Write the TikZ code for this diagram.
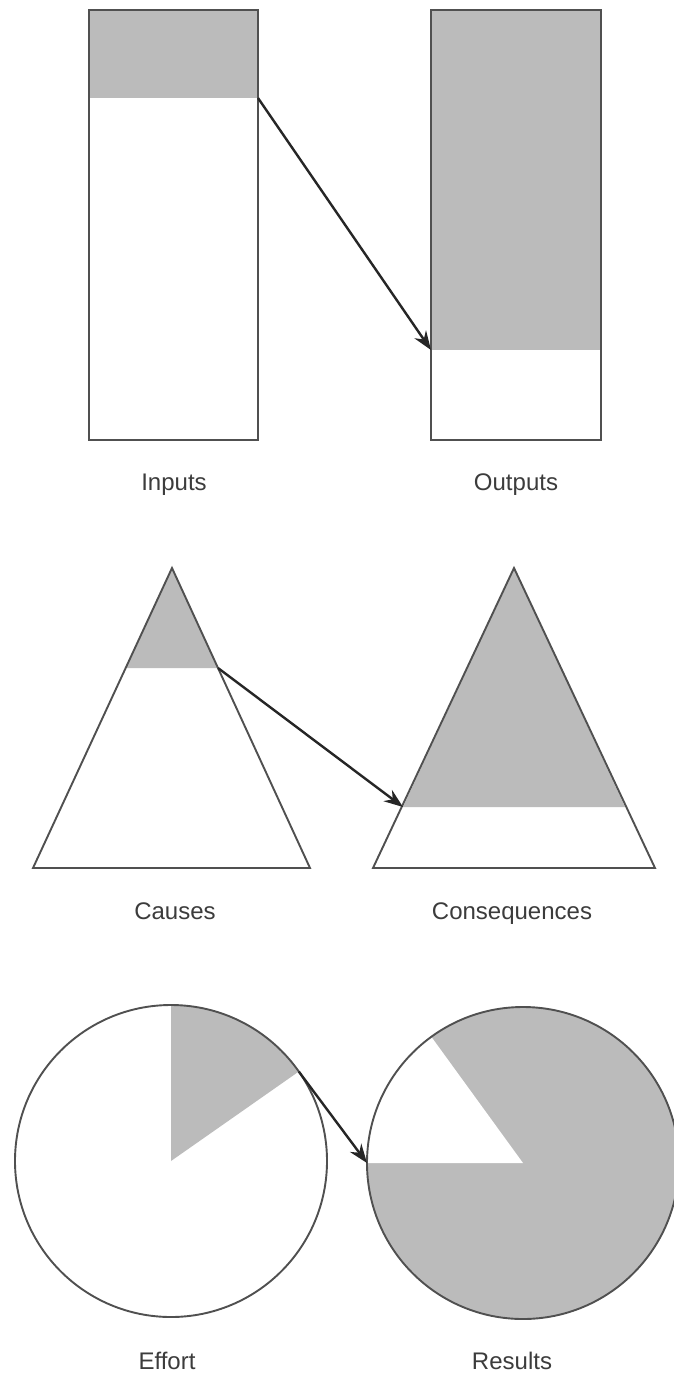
\documentclass[tikz,border=0pt]{standalone}
\usepackage{fontspec}
\setmainfont{Liberation Sans}
\usetikzlibrary{arrows.meta,calc}
\definecolor{shade}{RGB}{187,187,187}
\definecolor{edge}{RGB}{80,80,80}
\definecolor{ink}{RGB}{60,60,60}
\tikzset{
  outline/.style={draw=edge, line width=1.9pt},
  shaded/.style={fill=shade},
  flow/.style={draw=black!85, line width=2.4pt, -{Stealth[length=19pt,width=14pt]}},
  lab/.style={text=ink, font=\fontsize{24}{28}\selectfont, inner sep=0pt, anchor=base}
}
\begin{document}
\begin{tikzpicture}[x=1pt,y=1pt]
\useasboundingbox (0,0) rectangle (673,-1373);
\fill[white] (0,0) rectangle (673,-1373);
% rectangles
\fill[shaded] (89,-10) rectangle (258,-98);
\draw[outline] (89,-10) rectangle (258,-440);
\fill[shaded] (431,-10) rectangle (601,-350);
\draw[outline] (431,-10) rectangle (601,-440);
\coordinate (inTop) at (258,-98);
\coordinate (outTop) at (431,-350);
\draw[flow] (inTop) -- (outTop);
\node[lab] (inputs) at (174,-490) {Inputs};
\node[lab] (outputs) at (516,-490) {Outputs};
% triangles
\fill[shaded] (172,-568) -- (125.7,-668) -- (218.3,-668) -- cycle;
\draw[outline, line join=miter] (172,-568) -- (33,-868) -- (310,-868) -- cycle;
\fill[shaded] (514,-568) -- (403,-807) -- (625,-807) -- cycle;
\draw[outline, line join=miter] (514,-568) -- (373,-868) -- (655,-868) -- cycle;
\coordinate (causeCut) at (218,-668);
\coordinate (consCut) at (403,-807);
\draw[flow] (causeCut) -- (consCut);
\node[lab] (causes) at (175,-919) {Causes};
\node[lab] (consequences) at (512,-919) {Consequences};
% pies
\coordinate (effortC) at (171,-1161);
\coordinate (resultC) at (523,-1163);
\fill[shaded] (effortC) -- ++(35:156) arc[start angle=35, end angle=90, radius=156] -- cycle;
\draw[outline] (effortC) circle[radius=156];
\fill[shaded] (resultC) circle[radius=156];
\fill[white] (resultC) -- ++(126:156) arc[start angle=126, end angle=180, radius=156] -- cycle;
\draw[outline] (resultC) circle[radius=156];
\coordinate (effortEdge) at ($(effortC)+(35:156)$);
\coordinate (resultEdge) at ($(resultC)+(180:156)$);
\draw[flow] (effortEdge) -- (resultEdge);
\node[lab] (effort) at (167,-1369) {Effort};
\node[lab] (results) at (512,-1369) {Results};
\end{tikzpicture}
\end{document}
